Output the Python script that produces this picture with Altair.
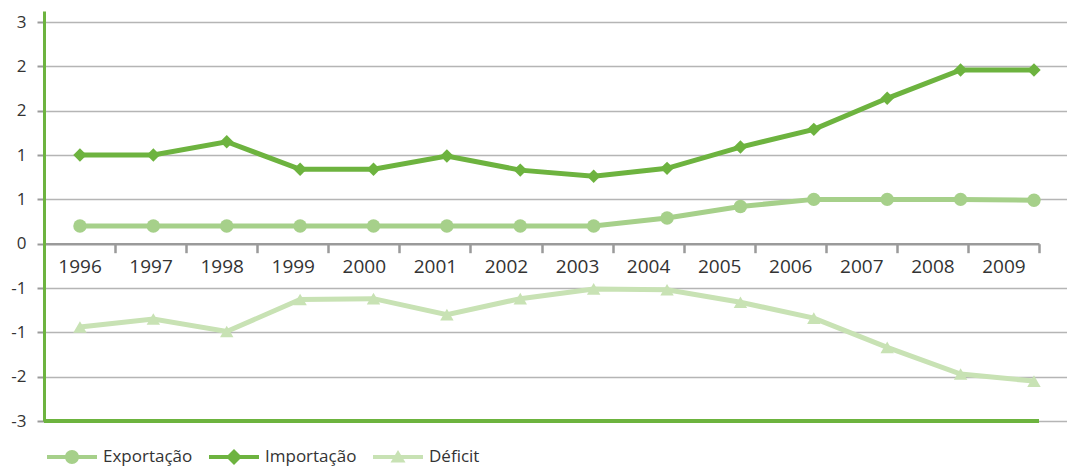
import json
import altair as alt
import pandas as pd

# ---- data ----
years = [1996, 1997, 1998, 1999, 2000, 2001, 2002, 2003, 2004, 2005, 2006, 2007, 2008, 2009]
exportacao = [0.20, 0.20, 0.20, 0.20, 0.20, 0.20, 0.20, 0.20, 0.29, 0.42, 0.50, 0.50, 0.50, 0.49]
importacao = [1.00, 1.00, 1.15, 0.84, 0.84, 0.99, 0.83, 0.76, 0.85, 1.09, 1.29, 1.64, 1.96, 1.96]
deficit = [-0.94, -0.85, -0.99, -0.63, -0.62, -0.80, -0.62, -0.51, -0.52, -0.66, -0.84, -1.17, -1.47, -1.55]

series_names = ["Exportação", "Importação", "Déficit"]
series_colors = ["#a6d08a", "#6db33f", "#c8e2b4"]
series_shapes = ["circle", "diamond", "triangle-up"]

y_tick_values = [-2.0, -1.5, -1.0, -0.5, 0.0, 0.5, 1.0, 1.5, 2.0, 2.5]
y_tick_labels = ["-3", "-2", "-1", "-1", "0", "1", "1", "2", "2", "3"]
y_domain = [-2.0, 2.625]
x_domain = [1995.51, 2009.45]

rows = []
for name, vals in zip(series_names, [exportacao, importacao, deficit]):
    for yr, v in zip(years, vals):
        rows.append({"year": yr, "serie": name, "valor": v})
df = pd.DataFrame(rows)
df_years = pd.DataFrame({"ano": [str(y) for y in years]})

# ---- layout ----
W, H = 1023, 410
XR = 995  # x range used by the categories
GREEN = "#6db33f"
FONT = "Open Sans"
zero_offset = -H * (0 - y_domain[0]) / (y_domain[1] - y_domain[0])

label_expr = f"{json.dumps(y_tick_labels)}[indexof({json.dumps(y_tick_values)}, datum.value)]"

y_enc = alt.Y(
    "valor:Q",
    scale=alt.Scale(domain=y_domain, nice=False, zero=False),
    axis=alt.Axis(
        values=y_tick_values, labelExpr=label_expr, title=None,
        domainColor=GREEN, domainWidth=3,
        tickColor="#9a9a9a", tickWidth=2, tickSize=7,
        grid=True, gridColor="#b5b5b5", gridWidth=1.5,
        gridOpacity={"condition": {"test": "datum.value === 0", "value": 0}, "value": 1},
        labelFont=FONT, labelFontSize=17, labelColor="#333333", labelPadding=11,
    ),
)

x_q = alt.X("year:Q", scale=alt.Scale(domain=x_domain, nice=False, zero=False), axis=None)

color_scale = alt.Scale(domain=series_names, range=series_colors)

# category axis (band scale, sitting on the zero line)
axis_layer = alt.Chart(df_years).mark_point(opacity=0).encode(
    x=alt.X(
        "ano:O",
        scale=alt.Scale(type="band", range=[0, XR], paddingInner=0, paddingOuter=0),
        axis=alt.Axis(
            orient="bottom", offset=zero_offset, title=None, labelAngle=0,
            domainColor="#9a9a9a", domainWidth=2.5,
            tickColor="#9a9a9a", tickWidth=2.5, tickSize=9, tickBand="extent",
            labelFont=FONT, labelFontSize=19, labelColor="#333333", labelPadding=5,
            grid=False,
        ),
    )
)

lines = alt.Chart(df).mark_line(strokeWidth=5).encode(
    x=x_q, y=y_enc,
    color=alt.Color("serie:N", scale=color_scale, legend=None),
    detail="serie:N",
)

points = alt.Chart(df).mark_point(filled=True, opacity=1, size=180).encode(
    x=x_q, y=y_enc,
    color=alt.Color("serie:N", scale=color_scale, legend=None),
    shape=alt.Shape("serie:N", scale=alt.Scale(domain=series_names, range=series_shapes), legend=None),
)

legend_paths = [
    "M-1,-0.08H1V0.08H-1Z M-0.28,0 A0.28,0.28 0 1,1 0.28,0 A0.28,0.28 0 1,1 -0.28,0 Z",
    "M-1,-0.08H1V0.08H-1Z M0,-0.32 L0.32,0 L0,0.32 L-0.32,0 Z",
    "M-1,-0.08H1V0.08H-1Z M0,-0.28 L0.3,0.22 L-0.3,0.22 Z",
]
leg = alt.Legend(
    orient="none", legendX=3, legendY=421, direction="horizontal", title=None,
    symbolSize=2500, symbolOpacity=1, symbolStrokeWidth=0,
    labelFont=FONT, labelFontSize=17, labelColor="#333333",
    labelOffset=6, columnPadding=16,
)
legend_layer = alt.Chart(df).mark_point(filled=True).encode(
    color=alt.Color("serie:N", scale=color_scale, legend=leg, sort=series_names),
    shape=alt.Shape("serie:N", scale=alt.Scale(domain=series_names, range=legend_paths), legend=leg, sort=series_names),
).transform_filter("false")

bottom_rule = alt.Chart(df_years).mark_rule(color=GREEN, strokeWidth=3).encode(
    y=alt.datum(y_domain[0], scale=alt.Scale(domain=y_domain, nice=False, zero=False)),
    x=alt.value(0), x2=alt.value(XR),
)

chart = alt.layer(
    lines, points, axis_layer, legend_layer, bottom_rule
).resolve_scale(
    x="independent", color="independent", shape="independent"
).properties(
    width=W, height=H,
    autosize=alt.AutoSizeParams(type="none"),
    padding={"left": 44, "top": 11, "right": 0, "bottom": 45},
).configure_view(stroke=None)

chart.save("out.html", embed_options={"renderer": "svg", "actions": False})
